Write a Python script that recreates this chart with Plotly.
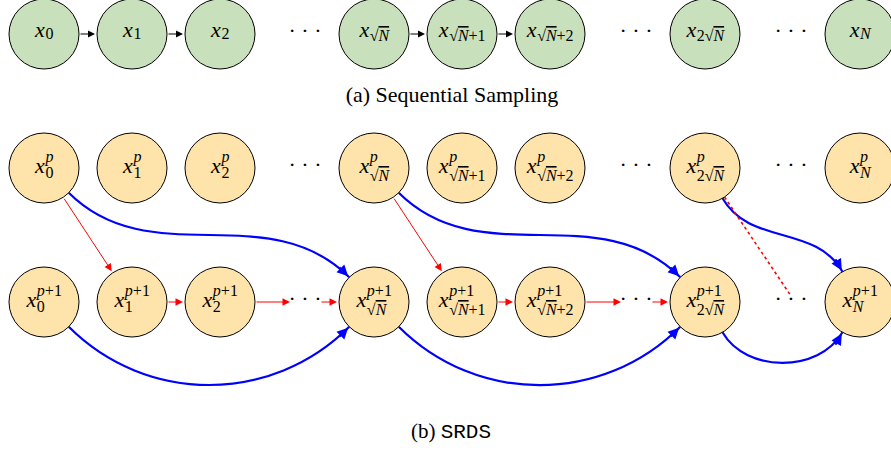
import math
import plotly.graph_objects as go

W, H = 891, 450

# ---------------- data ----------------
node_keys = ["0", "1", "2", "√N", "√N+1", "√N+2", "2√N", "N"]
node_x = [44, 132, 220, 374, 462, 550, 705, 860]
dots_x = [305, 636, 791]
row_seq, row_p, row_p1 = 34, 168, 302
R = 35

seq_edges = [(0, 1), (1, 2), (3, 4), (4, 5)]
red_diag_edges = [(0, 1), (3, 4)]
# chain on row p+1 : ("n", index) node, ("d", index) dots
red_chain_edges = [(("n", 1), ("n", 2)), (("n", 2), ("d", 0)), (("d", 0), ("n", 3)),
                   (("n", 4), ("n", 5)), (("n", 5), ("d", 1)), (("d", 1), ("n", 6))]
red_dotted_edge = (6, 2)   # node 6 on row p -> dots 2 on row p+1
# (src node, src row, dst node, dst row, out angle, in angle)
blue_edges = [(0, "p", 3, "p1", -45, 135), (3, "p", 6, "p1", -45, 135), (6, "p", 7, "p1", -60, 120),
              (0, "p1", 3, "p1", -45, -135), (3, "p1", 6, "p1", -45, -135), (6, "p1", 7, "p1", -60, -120)]

caption_a = "(a) Sequential Sampling"
caption_b_prefix = "(b) "
caption_b_name = "SRDS"

# ---------------- style ----------------
GREEN = "#c8e0bb"
ORANGE = "#fee3aa"
BLUE = "#0000ff"
RED = "#ff0000"
SERIF = "Liberation Serif"
MONO = "Liberation Mono"
FS, SS = 22, 16
rows = {"p": row_p, "p1": row_p1}

fig = go.Figure()
shapes, annotations = [], []


def arrow(x0, y0, x1, y1, color, width, size, head=2):
    annotations.append(dict(x=x1, y=y1, ax=x0, ay=y0, xref="x", yref="y", axref="x", ayref="y",
                            showarrow=True, arrowhead=head, arrowsize=size, arrowwidth=width,
                            arrowcolor=color, text=""))


def dirv(a):
    r = math.radians(a)
    return math.cos(r), -math.sin(r)


# blue curved edges
for s, sr, d, dr, a_out, a_in in blue_edges:
    cx0, cy0 = node_x[s], rows[sr]
    cx1, cy1 = node_x[d], rows[dr]
    u0, u1 = dirv(a_out), dirv(a_in)
    p0 = (cx0 + R * u0[0], cy0 + R * u0[1])
    p3 = (cx1 + R * u1[0], cy1 + R * u1[1])
    L = 0.3915 * math.hypot(p3[0] - p0[0], p3[1] - p0[1])
    p1 = (p0[0] + L * u0[0], p0[1] + L * u0[1])
    p2 = (p3[0] + L * u1[0], p3[1] + L * u1[1])
    shapes.append(dict(type="path", xref="x", yref="y", layer="below",
                       path=f"M {p0[0]},{p0[1]} C {p1[0]},{p1[1]} {p2[0]},{p2[1]} {p3[0]},{p3[1]}",
                       line=dict(color=BLUE, width=2.2)))
    tx, ty = p3[0] - p2[0], p3[1] - p2[1]
    n = math.hypot(tx, ty)
    arrow(p3[0] - 16 * tx / n, p3[1] - 16 * ty / n, p3[0] - 1.5 * tx / n, p3[1] - 1.5 * ty / n,
          BLUE, 2.2, 1.0, head=2)

# red diagonal edges
for s, d in red_diag_edges:
    dx, dy = node_x[d] - node_x[s], row_p1 - row_p
    n = math.hypot(dx, dy)
    ux, uy = dx / n, dy / n
    arrow(node_x[s] + R * ux, row_p + R * uy, node_x[d] - R * ux - 1, row_p1 - R * uy - 1.5, RED, 1, 1.5)

# red chain edges
for a, b in red_chain_edges:
    x0 = node_x[a[1]] + R if a[0] == "n" else dots_x[a[1]] + 15
    x1 = node_x[b[1]] - R - 2 if b[0] == "n" else dots_x[b[1]] - 15
    arrow(x0, row_p1, x1, row_p1, RED, 1, 1.5)

# red dotted
s, d = red_dotted_edge
ex, ey = dots_x[d], row_p1 - 6
dx, dy = ex - node_x[s], ey - row_p
n = math.hypot(dx, dy)
shapes.append(dict(type="line", xref="x", yref="y", layer="below",
                   x0=node_x[s] + R * dx / n, y0=row_p + R * dy / n,
                   x1=ex, y1=ey, line=dict(color=RED, width=1.6, dash="dot")))

# black sequential arrows
for s, d in seq_edges:
    arrow(node_x[s] + R, row_seq, node_x[d] - R - 2, row_seq, "black", 1, 1.4)

# circles
for y, fill in [(row_seq, GREEN), (row_p, ORANGE), (row_p1, ORANGE)]:
    for cx in node_x:
        shapes.append(dict(type="circle", xref="x", yref="y", layer="below",
                           x0=cx - R, x1=cx + R, y0=y - R, y1=y + R,
                           fillcolor=fill, line=dict(color="black", width=1)))

# labels
EMW = {"+": 0.564, "p": 0.5, "N": 0.667, "√": 0.55}


def width_em(s):
    return sum(EMW.get(c, 0.5) for c in s) if s else 0


def to_html(s):
    out, i = "", 0
    while i < len(s):
        c = s[i]
        if c == "√":
            out += '√<span style="text-decoration:overline"><i>N</i></span>'
            i += 2
            continue
        out += f"<i>{c}</i>" if c.isalpha() else c
        i += 1
    return out


groups = {"x": ([], [], []), "sup": ([], [], []), "sub": ([], [], [])}
for y, sup in [(row_seq, None), (row_p, "p"), (row_p1, "p+1")]:
    for cx, key in zip(node_x, node_keys):
        wx = 0.444 * FS
        ws = max(width_em(sup), width_em(key)) * SS
        left = cx - (wx + ws) / 2
        gx, gy, gt = groups["x"]
        gx.append(left); gy.append(y - (3 if sup is None else 1)); gt.append("<i>x</i>")
        if sup is not None:
            sx, sy, st = groups["sup"]
            sx.append(left + wx + 0.5); sy.append(y - 10); st.append(to_html(sup))
            sub_dy = 9 if "√" in key else 6
        else:
            sub_dy = 3 if "√" in key else 1
        bx, by, bt = groups["sub"]
        bx.append(left + wx + 0.5); by.append(y + sub_dy); bt.append(to_html(key))

for name, size in [("x", FS), ("sup", SS), ("sub", SS)]:
    gx, gy, gt = groups[name]
    fig.add_trace(go.Scatter(x=gx, y=gy, text=gt, mode="text", textposition="middle right",
                             textfont=dict(family=SERIF, size=size, color="black"),
                             hoverinfo="skip"))

# dots
dots_px = [dxp for _ in range(3) for dxp in dots_x]
dots_py = [y - 2 for y in (row_seq, row_p, row_p1) for _ in dots_x]
fig.add_trace(go.Scatter(x=dots_px, y=dots_py, text=["· · ·"] * len(dots_px), mode="text",
                         textposition="middle center",
                         textfont=dict(family=SERIF, size=22, color="black"), hoverinfo="skip"))

# captions
fig.add_trace(go.Scatter(x=[452, 451], y=[96, 433],
                         text=[caption_a,
                               caption_b_prefix + f'<span style="font-family:{MONO}">{caption_b_name}</span>'],
                         mode="text", textposition="middle center",
                         textfont=dict(family=SERIF, size=[22, 21], color="black"), hoverinfo="skip"))

fig.update_layout(width=W, height=H, margin=dict(l=0, r=0, t=0, b=0), autosize=False,
                  paper_bgcolor="white", plot_bgcolor="white", showlegend=False,
                  shapes=shapes, annotations=annotations,
                  xaxis=dict(range=[0, W], visible=False, fixedrange=True),
                  yaxis=dict(range=[H, 0], visible=False, fixedrange=True))
fig.write_html("out.html", post_script="document.body.style.margin='0px';",
               config={"displayModeBar": False})
